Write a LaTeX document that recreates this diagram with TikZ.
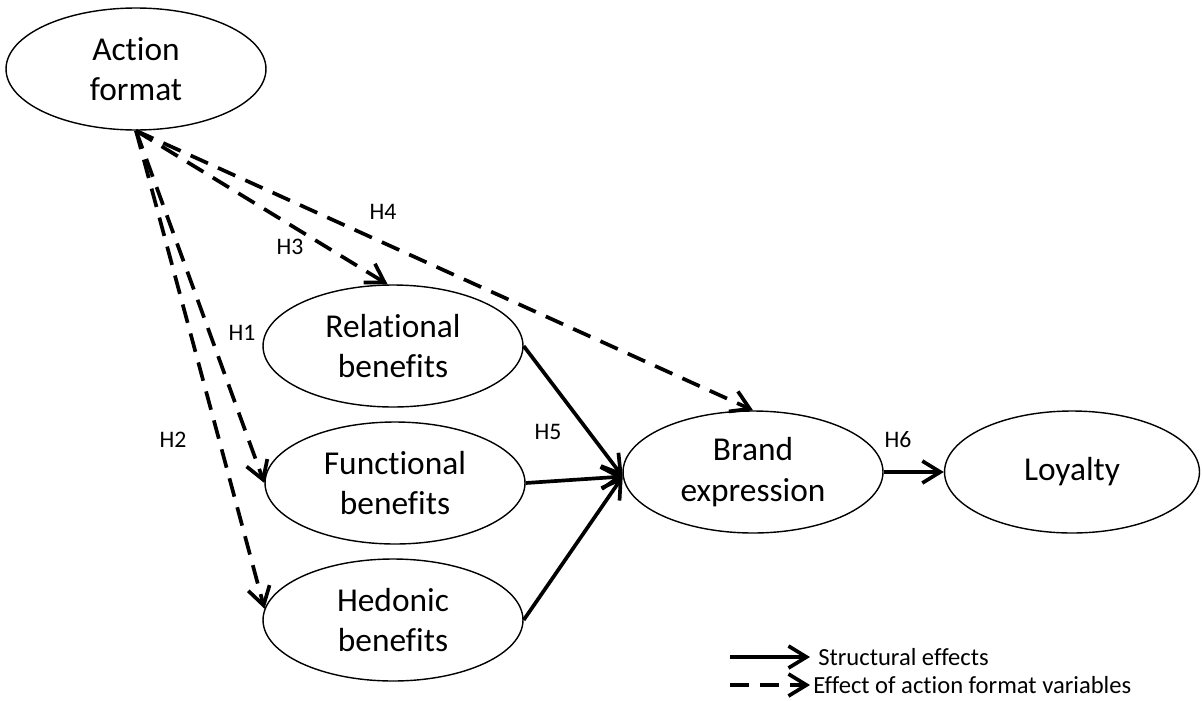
\documentclass[tikz,border=0pt]{standalone}
\usepackage{fontspec}
\setmainfont{Carlito}[Ligatures=NoCommon]
\usetikzlibrary{arrows.meta}
\usetikzlibrary{positioning}
\usetikzlibrary{shapes.geometric}
\tikzstyle{latnode} = [draw, ellipse, line width=0.8pt, minimum width=5.2cm, minimum height=2.44cm, inner sep=0pt, align=center, font=\fontsize{19}{23}\selectfont]
\tikzstyle{struct} = [line width=2.1pt, -{Straight Barb[length=3.6mm, width=4.4mm]}]
\tikzstyle{effect} = [struct, dash pattern=on 3.8mm off 2.2mm]
\tikzstyle{hlabel} = [inner sep=0pt, font=\fontsize{13.5}{16}\selectfont]
\tikzstyle{legtext} = [inner sep=0pt, font=\fontsize{14}{17}\selectfont]

\begin{document}
\begin{tikzpicture}[x=0.02cm, y=-0.02cm]
  \useasboundingbox (0,0) rectangle (1202,700);
  \node[latnode] (af) at (136,69) {Action\\format};
  \node[latnode] (rb) at (393,346) {Relational\\benefits};
  \node[latnode] (fb) at (395,483) {Functional\\benefits};
  \node[latnode] (hb) at (393,620) {Hedonic\\benefits};
  \node[latnode] (be) at (753,472) {Brand\\expression};
  \node[latnode, minimum width=5.1cm] (lo) at (1072,472) {Loyalty};

  \draw[effect] (af.south) -- (fb.west);
  \draw[effect] (af.south) -- (hb.175);
  \draw[effect] (af.south) -- (rb.95);
  \draw[effect] (af.south) -- (be.north);
  \draw[struct] (rb.east) -- (be.182);
  \draw[struct] (fb.east) -- (be.182);
  \draw[struct] (hb.east) -- (be.182);
  \draw[struct] (be.east) -- (lo.west);

  \node[hlabel] (h1) at (242,333) {H1};
  \node[hlabel] (h2) at (173,440) {H2};
  \node[hlabel] (h3) at (290,247) {H3};
  \node[hlabel] (h4) at (383,212) {H4};
  \node[hlabel] (h5) at (548,432) {H5};
  \node[hlabel] (h6) at (898,440) {H6};

  % legend
  \coordinate (s1) at (730,657);
  \coordinate (s2) at (810,657);
  \coordinate (d1) at (730,685);
  \coordinate (d2) at (810,685);
  \draw[struct] (s1) -- (s2);
  \draw[effect] (d1) -- (d2);
  \node[legtext, right=0.16cm of s2] (st) {Structural effects};
  \node[legtext, right=0.06cm of d2] (ef) {Effect of action format variables};
\end{tikzpicture}
\end{document}
